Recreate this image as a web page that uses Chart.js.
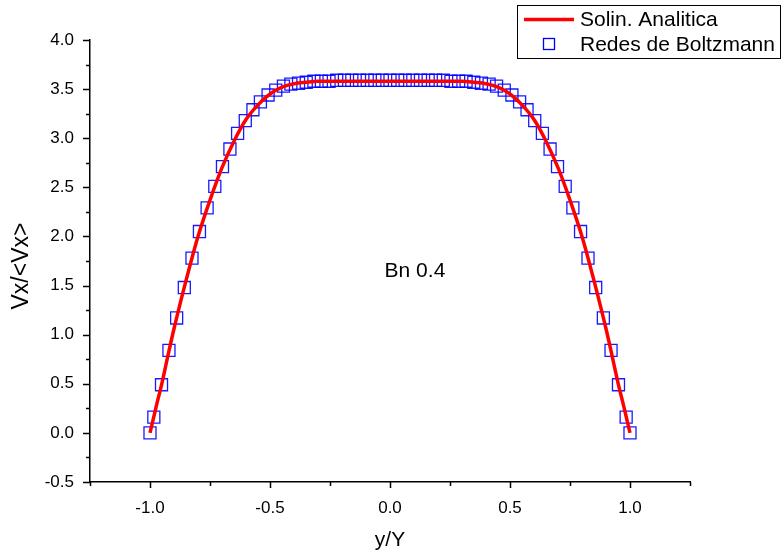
<!DOCTYPE html>
<html>
<head>
<meta charset="utf-8">
<script src="https://cdn.jsdelivr.net/npm/chart.js@4/dist/chart.umd.min.js"></script>
<style>
  html, body { margin: 0; padding: 0; background: #fff; }
  #wrap { width: 783px; height: 554px; position: relative; }
</style>
</head>
<body>
<div id="wrap"><canvas id="velChart" width="783" height="554"></canvas></div>
<script>
// analytic solution (red line)
const lineX = [-1.0, -0.975, -0.95, -0.925, -0.9, -0.85, -0.8, -0.75, -0.7, -0.65, -0.6, -0.55, -0.5, -0.45, -0.4, -0.35, -0.3,
               0.3, 0.35, 0.4, 0.45, 0.5, 0.55, 0.6, 0.65, 0.7, 0.75, 0.8, 0.85, 0.9, 0.925, 0.95, 0.975, 1.0];
const lineY = [0.0, 0.26, 0.51, 0.79, 1.06, 1.55, 2.0, 2.37, 2.7, 2.97, 3.19, 3.34, 3.45, 3.52, 3.555, 3.57, 3.58,
               3.58, 3.57, 3.555, 3.52, 3.45, 3.34, 3.19, 2.97, 2.7, 2.37, 2.0, 1.55, 1.06, 0.79, 0.51, 0.26, 0.0];

// lattice Boltzmann nodes (blue squares)
const lbmX = [-1.0, -0.984, -0.952, -0.921, -0.889, -0.857, -0.825, -0.794, -0.762, -0.730, -0.698, -0.667, -0.635,
              -0.603, -0.571, -0.540, -0.508, -0.476, -0.444, -0.413, -0.381, -0.349, -0.317, -0.286, -0.254, -0.222,
              -0.190, -0.159, -0.127, -0.095, -0.063, -0.032, 0.0,
              0.032, 0.063, 0.095, 0.127, 0.159, 0.190, 0.222, 0.254, 0.286, 0.317, 0.349, 0.381, 0.413, 0.444, 0.476,
              0.508, 0.540, 0.571, 0.603, 0.635, 0.667, 0.698, 0.730, 0.762, 0.794, 0.825, 0.857, 0.889, 0.921, 0.952,
              0.984, 1.0];
const lbmY = [0.0, 0.16, 0.49, 0.84, 1.17, 1.48, 1.78, 2.05, 2.29, 2.51, 2.71, 2.89, 3.05,
              3.18, 3.29, 3.37, 3.44, 3.49, 3.53, 3.55, 3.56, 3.57, 3.58, 3.58, 3.58, 3.59,
              3.59, 3.59, 3.59, 3.59, 3.59, 3.59, 3.59,
              3.59, 3.59, 3.59, 3.59, 3.59, 3.59, 3.59, 3.58, 3.58, 3.58, 3.57, 3.56, 3.55, 3.53, 3.49,
              3.44, 3.37, 3.29, 3.18, 3.05, 2.89, 2.71, 2.51, 2.29, 2.05, 1.78, 1.48, 1.17, 0.84, 0.49,
              0.16, 0.0];

const xTicks = [-1.0, -0.5, 0.0, 0.5, 1.0];
const yTicks = [-0.5, 0.0, 0.5, 1.0, 1.5, 2.0, 2.5, 3.0, 3.5, 4.0];
const seriesNames = ['Solin. Analitica', 'Redes de Boltzmann'];
const note = 'Bn 0.4';

const FONT = '"Liberation Sans", Arial, sans-serif';

// ticks, titles, legend and note, drawn Origin style
const decor = {
    id: 'decor',
    afterDraw(chart) {
        const ctx = chart.ctx;
        const xs = chart.scales.x, ys = chart.scales.y;
        const area = chart.chartArea;
        ctx.save();
        ctx.strokeStyle = '#000';
        ctx.lineWidth = 1.5;
        // x ticks every 0.25, longer on labelled ones
        for (let v = -1.25; v <= 1.2501; v += 0.25) {
            const px = Math.round(xs.getPixelForValue(v)) + 0.5;
            const len = Math.abs(v * 2 - Math.round(v * 2)) < 1e-6 ? 6 : 4;
            ctx.beginPath();
            ctx.moveTo(px, area.bottom);
            ctx.lineTo(px, area.bottom + len);
            ctx.stroke();
        }
        for (let v = -0.5; v <= 4.0001; v += 0.25) {
            const py = Math.round(ys.getPixelForValue(v)) + 0.5;
            const len = Math.abs(v * 2 - Math.round(v * 2)) < 1e-6 ? 7 : 4;
            ctx.beginPath();
            ctx.moveTo(area.left, py);
            ctx.lineTo(area.left - len, py);
            ctx.stroke();
        }

        // axis titles
        ctx.fillStyle = '#000';
        ctx.textAlign = 'center';
        ctx.textBaseline = 'middle';
        ctx.font = '21px ' + FONT;
        ctx.fillText('y/Y', 390, 540);
        ctx.save();
        ctx.translate(22, 266);
        ctx.rotate(-Math.PI / 2);
        ctx.font = '23px ' + FONT;
        ctx.fillText('Vx/<Vx>', 0, 0);
        ctx.restore();

        // note
        ctx.font = '21px ' + FONT;
        ctx.fillText(note, xs.getPixelForValue(0.104), ys.getPixelForValue(1.65));

        // legend box
        ctx.lineWidth = 1;
        ctx.strokeRect(517.5, 5.5, 263, 53);
        ctx.strokeStyle = '#ff0000';
        ctx.lineWidth = 3.5;
        ctx.beginPath();
        ctx.moveTo(524, 19.5);
        ctx.lineTo(574, 19.5);
        ctx.stroke();
        ctx.strokeStyle = '#0000ff';
        ctx.lineWidth = 1.3;
        ctx.strokeRect(543.5, 38.5, 11, 11);
        ctx.fillStyle = '#000';
        ctx.textAlign = 'left';
        ctx.fillText(seriesNames[0], 580, 20);
        ctx.fillText(seriesNames[1], 580, 45);
        ctx.restore();
    }
};

const ctx = document.getElementById('velChart').getContext('2d');
new Chart(ctx, {
    type: 'scatter',
    data: {
        datasets: [{
            label: seriesNames[0],
            type: 'line',
            data: lineX.map((x, i) => ({ x: x, y: lineY[i] })),
            borderColor: '#ff0000',
            borderWidth: 3.5,
            pointRadius: 0,
            fill: false,
            cubicInterpolationMode: 'monotone',
            order: 0
        }, {
            label: seriesNames[1],
            data: lbmX.map((x, i) => ({ x: x, y: lbmY[i] })),
            pointStyle: 'rect',
            pointRadius: 8.5,
            pointBorderColor: 'rgba(0, 0, 255, 0.9)',
            pointBackgroundColor: 'rgba(0, 0, 0, 0)',
            pointBorderWidth: 1.3,
            order: 1
        }]
    },
    options: {
        responsive: false,
        animation: false,
        layout: { padding: { left: 0, top: 40, right: 93, bottom: 0 } },
        plugins: {
            legend: { display: false },
            tooltip: { enabled: false }
        },
        scales: {
            x: {
                type: 'linear',
                min: -1.25,
                max: 1.25,
                afterBuildTicks: s => { s.ticks = xTicks.map(v => ({ value: v })); },
                afterFit: s => { s.height = 72; },
                grid: { display: false },
                border: { display: true, color: '#000', width: 1.5 },
                ticks: {
                    color: '#000',
                    font: { family: FONT, size: 17 },
                    padding: 8,
                    maxRotation: 0,
                    callback: v => v.toFixed(1)
                }
            },
            y: {
                type: 'linear',
                min: -0.5,
                max: 4.0,
                afterBuildTicks: s => { s.ticks = yTicks.map(v => ({ value: v })); },
                afterFit: s => { s.width = 90; },
                grid: { display: false },
                border: { display: true, color: '#000', width: 1.5 },
                ticks: {
                    color: '#000',
                    font: { family: FONT, size: 17 },
                    padding: 8,
                    callback: v => v.toFixed(1)
                }
            }
        }
    },
    plugins: [decor]
});
</script>
</body>
</html>
